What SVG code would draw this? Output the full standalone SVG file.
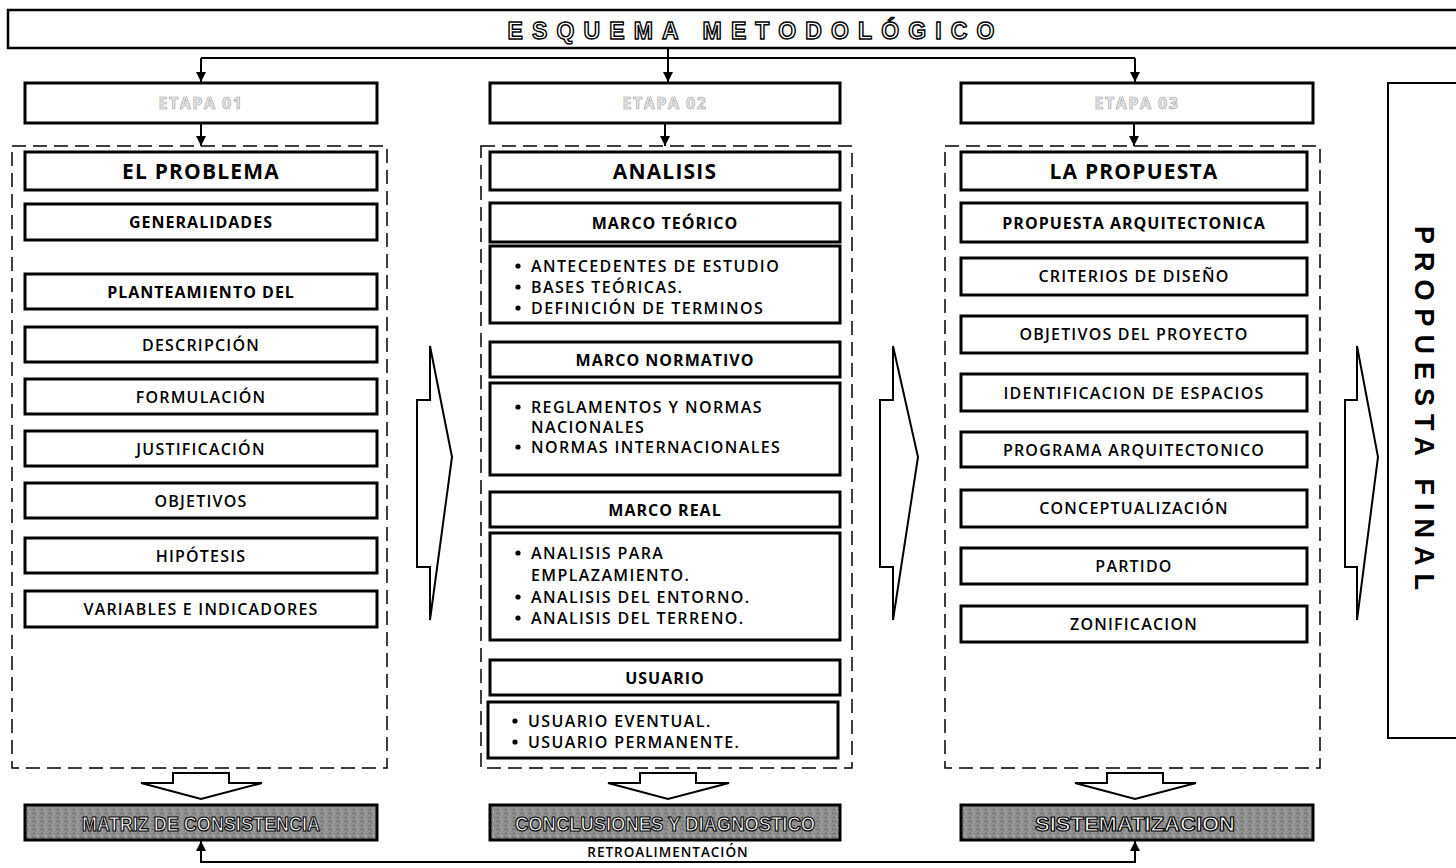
<svg xmlns="http://www.w3.org/2000/svg" width="1456" height="868" viewBox="0 0 1456 868">
<defs>
<style>
.box{fill:#fff;stroke:#000;stroke-width:3}
.dash{fill:none;stroke:#000;stroke-width:1.5;stroke-dasharray:14 7}
.ln{fill:none;stroke:#000;stroke-width:2}
.blk{fill:#fff;stroke:#000;stroke-width:2;stroke-linejoin:miter}
.t{font-family:"Open Sans","Liberation Sans",sans-serif;fill:#000;text-anchor:middle}
.h1{font-size:21px;font-weight:700;letter-spacing:1.2px}
.h2{font-size:16px;font-weight:700;letter-spacing:1px}
.m{font-size:16px;font-weight:600;letter-spacing:1.2px}
.li{font-family:"Open Sans","Liberation Sans",sans-serif;font-size:16px;font-weight:600;letter-spacing:1.4px;fill:#000}
.et{font-family:"Open Sans","Liberation Sans",sans-serif;font-size:16px;font-weight:700;fill:#ececec;stroke:#9a9a9a;stroke-width:0.6;text-anchor:middle;letter-spacing:1.5px}
.gb{fill:url(#noise);stroke:#000;stroke-width:3}
.gt{font-family:"Liberation Sans",sans-serif;font-size:21px;font-weight:700;fill:#fff;stroke:#000;stroke-width:1.2;text-anchor:middle}
</style>
<pattern id="noise" width="8" height="8" patternUnits="userSpaceOnUse">
<rect width="8" height="8" fill="#8e8e8e"/>
<rect x="1" y="1" width="2" height="1" fill="#5e5e5e"/>
<rect x="5" y="3" width="1" height="2" fill="#b5b5b5"/>
<rect x="2" y="5" width="2" height="1" fill="#6a6a6a"/>
<rect x="6" y="6" width="1" height="1" fill="#c2c2c2"/>
<rect x="4" y="0" width="1" height="1" fill="#a8a8a8"/>
<rect x="0" y="4" width="1" height="2" fill="#707070"/>
</pattern>
<marker id="ah" viewBox="0 0 10 10" refX="10" refY="5" markerWidth="5" markerHeight="5" orient="auto" markerUnits="strokeWidth">
<path d="M0,0 L10,5 L0,10 Z" fill="#000"/>
</marker>
</defs>
<rect width="1456" height="868" fill="#fff"/>

<g id="title">
<rect x="8" y="10" width="1460" height="38" fill="#fff" stroke="#000" stroke-width="2.5"/>
<text x="751" y="38.5" font-family="Liberation Sans,sans-serif" font-size="23" font-weight="700" fill="#fff" stroke="#000" stroke-width="1.4" text-anchor="middle" textLength="487" lengthAdjust="spacing">ESQUEMA  METODOLÓGICO</text>
</g>

<g id="connectors">
<path class="ln" d="M668,48 V58 M201,58 H1135"/>
<path class="ln" d="M201,58 V82" marker-end="url(#ah)"/>
<path class="ln" d="M668,58 V82" marker-end="url(#ah)"/>
<path class="ln" d="M1135,58 V82" marker-end="url(#ah)"/>
<path class="ln" d="M201,123 V146" marker-end="url(#ah)"/>
<path class="ln" d="M665,123 V146" marker-end="url(#ah)"/>
<path class="ln" d="M1134,123 V146" marker-end="url(#ah)"/>
<path class="blk" d="M417,400 H430 V346 L452,457 L430,620 V567 H417 Z"/>
<path class="blk" d="M880,400 H893 V346 L918,457 L893,620 V567 H880 Z"/>
<path class="blk" d="M1345,400 H1357 V346 L1378,457 L1357,620 V567 H1345 Z"/>
<path class="blk" d="M173,773 H229 V783 H262 L201,799 L141,783 H173 Z"/>
<path class="blk" d="M640,773 H696 V783 H729 L668,799 L608,783 H640 Z"/>
<path class="blk" d="M1107,773 H1163 V783 H1196 L1135,799 L1075,783 H1107 Z"/>
<path class="ln" d="M201,862 V841" marker-end="url(#ah)"/>
<path class="ln" d="M1135,862 V841" marker-end="url(#ah)"/>
<path class="ln" d="M200,862 H1136"/>
<text x="668" y="857" font-family="Open Sans,Liberation Sans,sans-serif" font-size="13.5" font-weight="600" text-anchor="middle" letter-spacing="1">RETROALIMENTACIÓN</text>
</g>

<g id="etapa1"><rect class="box" x="25" y="83" width="352" height="40"/><text class="et" x="201" y="109">ETAPA 01</text></g>
<g id="etapa2"><rect class="box" x="490" y="83" width="350" height="40"/><text class="et" x="665" y="109">ETAPA 02</text></g>
<g id="etapa3"><rect class="box" x="961" y="83" width="352" height="40"/><text class="et" x="1137" y="109">ETAPA 03</text></g>

<g id="col1">
<rect class="dash" x="12" y="146" width="375" height="622"/>
<g id="el-problema"><rect class="box" x="25" y="152" width="352" height="38"/><text class="t h1" x="201" y="178.5">EL PROBLEMA</text></g>
<g id="generalidades"><rect class="box" x="25" y="204" width="352" height="36"/><text class="t h2" x="201" y="227.5">GENERALIDADES</text></g>
<g id="planteamiento"><rect class="box" x="25" y="274" width="352" height="35"/><text class="t h2" x="201" y="297.5">PLANTEAMIENTO  DEL</text></g>
<g id="descripcion"><rect class="box" x="25" y="327" width="352" height="35"/><text class="t m" x="201" y="350.5">DESCRIPCIÓN</text></g>
<g id="formulacion"><rect class="box" x="25" y="379" width="352" height="35"/><text class="t m" x="201" y="402.5">FORMULACIÓN</text></g>
<g id="justificacion"><rect class="box" x="25" y="431" width="352" height="35"/><text class="t m" x="201" y="454.5">JUSTIFICACIÓN</text></g>
<g id="objetivos"><rect class="box" x="25" y="483" width="352" height="35"/><text class="t m" x="201" y="506.5">OBJETIVOS</text></g>
<g id="hipotesis"><rect class="box" x="25" y="538" width="352" height="35"/><text class="t m" x="201" y="561.5">HIPÓTESIS</text></g>
<g id="variables"><rect class="box" x="25" y="591" width="352" height="36"/><text class="t m" x="201" y="615">VARIABLES  E INDICADORES</text></g>
</g>

<g id="col2">
<rect class="dash" x="481" y="146" width="371" height="622"/>
<g id="analisis"><rect class="box" x="490" y="152" width="350" height="38"/><text class="t h1" x="665" y="178.5">ANALISIS</text></g>
<g id="marco-teorico"><rect class="box" x="490" y="203" width="350" height="39"/><text class="t h2" x="665" y="228.5">MARCO TEÓRICO</text></g>
<g id="marco-teorico-list"><rect class="box" x="490" y="246" width="350" height="77"/>
<circle cx="518" cy="266" r="2.6"/><circle cx="518" cy="287" r="2.6"/><circle cx="518" cy="308" r="2.6"/>
<text class="li" x="531" y="272">ANTECEDENTES  DE ESTUDIO</text>
<text class="li" x="531" y="293">BASES TEÓRICAS.</text>
<text class="li" x="531" y="314">DEFINICIÓN  DE TERMINOS</text></g>
<g id="marco-normativo"><rect class="box" x="490" y="342" width="350" height="35"/><text class="t h2" x="665" y="365.5">MARCO NORMATIVO</text></g>
<g id="marco-normativo-list"><rect class="box" x="490" y="383" width="350" height="92"/>
<circle cx="518" cy="407" r="2.6"/><circle cx="518" cy="447" r="2.6"/>
<text class="li" x="531" y="413">REGLAMENTOS  Y NORMAS</text>
<text class="li" x="531" y="433">NACIONALES</text>
<text class="li" x="531" y="453">NORMAS  INTERNACIONALES</text></g>
<g id="marco-real"><rect class="box" x="490" y="492" width="350" height="35"/><text class="t h2" x="665" y="515.5">MARCO REAL</text></g>
<g id="marco-real-list"><rect class="box" x="490" y="533" width="350" height="107"/>
<circle cx="518" cy="553" r="2.6"/><circle cx="518" cy="597" r="2.6"/><circle cx="518" cy="618" r="2.6"/>
<text class="li" x="531" y="559">ANALISIS PARA</text>
<text class="li" x="531" y="581">EMPLAZAMIENTO.</text>
<text class="li" x="531" y="603">ANALISIS DEL ENTORNO.</text>
<text class="li" x="531" y="624">ANALISIS DEL TERRENO.</text></g>
<g id="usuario"><rect class="box" x="490" y="660" width="350" height="35"/><text class="t h2" x="665" y="683.5">USUARIO</text></g>
<g id="usuario-list"><rect class="box" x="488" y="702" width="350" height="56"/>
<circle cx="515" cy="721" r="2.6"/><circle cx="515" cy="742" r="2.6"/>
<text class="li" x="528" y="727">USUARIO  EVENTUAL.</text>
<text class="li" x="528" y="748">USUARIO  PERMANENTE.</text></g>
</g>

<g id="col3">
<rect class="dash" x="945" y="146" width="375" height="622"/>
<g id="la-propuesta"><rect class="box" x="961" y="152" width="346" height="38"/><text class="t h1" x="1134" y="178.5">LA PROPUESTA</text></g>
<g id="propuesta-arq"><rect class="box" x="961" y="203" width="346" height="39"/><text class="t h2" x="1134" y="228.5">PROPUESTA  ARQUITECTONICA</text></g>
<g id="criterios"><rect class="box" x="961" y="258" width="346" height="37"/><text class="t m" x="1134" y="282">CRITERIOS  DE DISEÑO</text></g>
<g id="objetivos-proyecto"><rect class="box" x="961" y="316" width="346" height="37"/><text class="t m" x="1134" y="340">OBJETIVOS  DEL PROYECTO</text></g>
<g id="identificacion"><rect class="box" x="961" y="374" width="346" height="37"/><text class="t m" x="1134" y="398.5">IDENTIFICACION  DE ESPACIOS</text></g>
<g id="programa"><rect class="box" x="961" y="432" width="346" height="35"/><text class="t m" x="1134" y="455.5">PROGRAMA ARQUITECTONICO</text></g>
<g id="conceptualizacion"><rect class="box" x="961" y="490" width="346" height="37"/><text class="t m" x="1134" y="514">CONCEPTUALIZACIÓN</text></g>
<g id="partido"><rect class="box" x="961" y="548" width="346" height="36"/><text class="t m" x="1134" y="572">PARTIDO</text></g>
<g id="zonificacion"><rect class="box" x="961" y="606" width="346" height="36"/><text class="t m" x="1134" y="630">ZONIFICACION</text></g>
</g>

<g id="propuesta-final">
<rect x="1388" y="83" width="80" height="655" fill="#fff" stroke="#000" stroke-width="2"/>
<text transform="translate(1424,412) rotate(90)" x="0" y="9.5" font-family="Liberation Sans,sans-serif" font-size="27" font-weight="700" text-anchor="middle" letter-spacing="8">PROPUESTA   FINAL</text>
</g>

<g id="matriz"><rect class="gb" x="25" y="805" width="352" height="35"/><text class="gt" x="201" y="830.5" textLength="238" lengthAdjust="spacingAndGlyphs">MATRIZ DE CONSISTENCIA</text></g>
<g id="conclusiones"><rect class="gb" x="490" y="805" width="350" height="35"/><text class="gt" x="665" y="830.5" textLength="300" lengthAdjust="spacingAndGlyphs">CONCLUSIONES  Y DIAGNOSTICO</text></g>
<g id="sistematizacion"><rect class="gb" x="961" y="805" width="352" height="35"/><text class="gt" x="1135" y="830.5" textLength="200" lengthAdjust="spacingAndGlyphs">SISTEMATIZACION</text></g>
</svg>
